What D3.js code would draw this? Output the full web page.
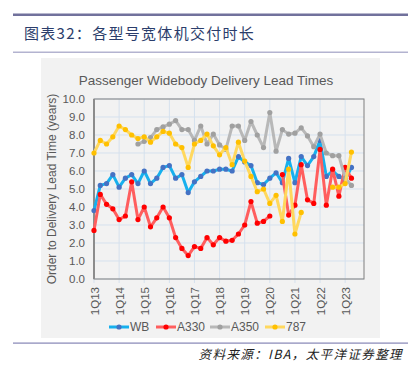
<!DOCTYPE html>
<html>
<head>
<meta charset="utf-8">
<script src="https://cdn.jsdelivr.net/npm/d3@7/dist/d3.min.js"></script>
<style>
  body { margin: 0; background: #fff; }
  svg text { font-family: "Liberation Sans", Arial, sans-serif; }
  .cn { font-family: "Noto Sans CJK SC", sans-serif; }
</style>
</head>
<body>
<svg id="chart" width="411" height="375"></svg>
<script>
// quarter categories 1Q13 .. 4Q23
var years = ['13', '14', '15', '16', '17', '18', '19', '20', '21', '22', '23'];
var quarters = [];
years.forEach(function (y) {
    ['1Q', '2Q', '3Q', '4Q'].forEach(function (q) { quarters.push(q + y); });
});
var tickLabels = ['1Q13', '1Q14', '1Q15', '1Q16', '1Q17', '1Q18', '1Q19', '1Q20', '1Q21', '1Q22', '1Q23'];
var yTicks = [0, 1, 2, 3, 4, 5, 6, 7, 8, 9, 10];

// years from order to delivery, one value per quarter (null = no delivery)
var wb = [3.8, 5.2, 5.3, 5.8, 5.1, 5.6, 5.8, 5.3, 6.0, 5.3, 5.6, 6.2, 6.3, 5.6, 5.8, 4.8, 5.4, 5.7, 6.0, 6.0,
    6.1, 6.1, 6.0, 6.8, 6.5, 6.3, 5.35, 5.25, 5.6, 5.9, 5.35, 6.7, 5.35, 6.8, 6.3, 6.8, 7.7, 5.7, 6.0, 5.7,
    5.5, 6.2];
var a330 = [2.7, 4.7, 4.15, 3.9, 3.3, 3.5, 5.4, 3.3, 4.0, 2.9, 3.4, 4.0, 3.4, 2.3, 1.7, 1.3, 1.8, 1.7, 2.3, 1.9,
    2.3, 2.1, 2.15, 2.5, 3.0, 4.3, 3.1, 3.2, 3.5, null, 5.8, 3.55, 4.1, 6.35, 4.4, 4.2, 7.2, 4.1, 6.1, 4.6,
    6.2, 5.6];
var a350 = [null, null, null, null, null, null, null, 7.5, 7.65, 7.85, 8.3, 8.45, 8.6, 8.8, 8.3, 8.3, 7.7, 8.5, 7.5, 8.05,
    7.45, 7.2, 8.5, 8.5, 7.7, 8.75, 8.0, 7.3, 9.25, 7.1, 8.3, 8.05, 8.1, 8.4, 7.95, 7.35, 8.05, 7.0, 6.85, 6.85,
    5.6, 5.2];
var b787 = [7.0, 7.7, 7.5, 7.9, 8.5, 8.3, 8.0, 7.8, 7.9, 7.6, 7.9, 8.2, 8.1, 7.5, 7.3, 6.2, 7.5, 7.7, 8.05, 7.4,
    6.9, 7.3, 6.35, 7.6, 6.55, 5.7, 4.85, 5.0, 4.2, 4.65, 3.2, 6.1, 2.5, 3.7, null, null, null, null, 5.1, 5.1,
    5.3, 7.05];

var series = [
    {name: 'WB', values: wb, line: '#16b0ee', dot: '#4472c4'},
    {name: 'A330', values: a330, line: '#ff5e5e', dot: '#ff0000'},
    {name: 'A350', values: a350, line: '#b8b8b8', dot: '#a0a0a0'},
    {name: '787', values: b787, line: '#ffd85e', dot: '#ffc000'}
];

var svg = d3.select('#chart');
var plot = {left: 94, right: 364, top: 99, bottom: 279};

// page header
svg.append('rect').attr('x', 13).attr('y', 13.5).attr('width', 395).attr('height', 2.5).attr('fill', '#71719c');
svg.append('text').attr('class', 'cn').attr('x', 24).attr('y', 39)
        .attr('font-size', 15).attr('fill', '#2b3d6b').attr('letter-spacing', 1.3)
        .text('图表32：各型号宽体机交付时长');
svg.append('rect').attr('x', 13).attr('y', 51.5).attr('width', 395).attr('height', 1.5).attr('fill', '#b3b3d0');

// chart box
svg.append('rect').attr('x', 41).attr('y', 58).attr('width', 339).attr('height', 280).attr('fill', '#f2f2f2');

svg.append('text').attr('x', 206).attr('y', 85).attr('text-anchor', 'middle')
        .attr('font-size', 13.5).attr('fill', '#595959')
        .text('Passenger Widebody Delivery Lead Times');

var x = d3.scalePoint().domain(quarters).range([plot.left, plot.right]);
var y = d3.scaleLinear().domain([0, 10]).range([plot.bottom, plot.top]);

// grid
var grid = svg.append('g');
grid.selectAll('.hg').data(yTicks).enter().append('line')
        .attr('x1', plot.left).attr('x2', plot.right)
        .attr('y1', function (d) { return y(d); }).attr('y2', function (d) { return y(d); })
        .attr('stroke', '#d5e1ee').attr('stroke-width', 1);
grid.selectAll('.vg').data(tickLabels).enter().append('line')
        .attr('x1', function (d) { return x(d); }).attr('x2', function (d) { return x(d); })
        .attr('y1', plot.top).attr('y2', plot.bottom + 4)
        .attr('stroke', '#d5e1ee').attr('stroke-width', 1);

// plot border
svg.append('rect').attr('x', plot.left).attr('y', plot.top)
        .attr('width', plot.right - plot.left).attr('height', plot.bottom - plot.top)
        .attr('fill', 'none').attr('stroke', '#7f7f7f').attr('stroke-width', 1);
svg.append('line').attr('x1', plot.left).attr('x2', plot.left).attr('y1', plot.top).attr('y2', plot.bottom)
        .attr('stroke', '#8c8c8c').attr('stroke-width', 2);

// axes
var yAxis = d3.axisLeft(y).tickValues(yTicks).tickFormat(d3.format('.1f')).tickSize(0).tickPadding(9);
var gy = svg.append('g').attr('transform', 'translate(' + plot.left + ',0)').call(yAxis);
gy.select('.domain').remove();
gy.selectAll('text').attr('font-size', 11.5).attr('fill', '#595959')
        .style('font-family', '"Liberation Sans", Arial, sans-serif');

var xAxis = d3.axisBottom(x).tickValues(tickLabels).tickSize(0).tickPadding(0);
var gx = svg.append('g').attr('transform', 'translate(0,' + plot.bottom + ')').call(xAxis);
gx.select('.domain').remove();
gx.selectAll('text')
        .attr('font-size', 11.5).attr('fill', '#595959')
        .style('font-family', '"Liberation Sans", Arial, sans-serif')
        .attr('text-anchor', 'end')
        .attr('transform', 'rotate(-90)')
        .attr('x', -8).attr('y', 0).attr('dy', '0.35em');

svg.append('text').attr('transform', 'translate(56,189) rotate(-90)')
        .attr('text-anchor', 'middle').attr('font-size', 12).attr('fill', '#595959')
        .text('Order to Delivery Lead Time (years)');

// series
var line = d3.line()
        .defined(function (d) { return d != null; })
        .x(function (d, i) { return x(quarters[i]); })
        .y(function (d) { return y(d); });

series.forEach(function (s) {
    var g = svg.append('g');
    g.append('path').attr('d', line(s.values))
            .attr('fill', 'none').attr('stroke', s.line).attr('stroke-width', 3)
            .attr('stroke-linejoin', 'round');
    g.selectAll('circle').data(s.values.map(function (v, i) { return {v: v, i: i}; })
            .filter(function (d) { return d.v != null; }))
            .enter().append('circle')
            .attr('cx', function (d) { return x(quarters[d.i]); })
            .attr('cy', function (d) { return y(d.v); })
            .attr('r', 2.6).attr('fill', s.dot);
});

// legend
var legendX = [109, 156, 210, 265];
var lg = svg.append('g').selectAll('g').data(series).enter().append('g')
        .attr('transform', function (d, i) { return 'translate(' + legendX[i] + ',327)'; });
lg.append('line').attr('x1', 0).attr('x2', 20).attr('y1', 0).attr('y2', 0)
        .attr('stroke', function (d) { return d.line; }).attr('stroke-width', 3);
lg.append('circle').attr('cx', 10).attr('cy', 0).attr('r', 2.6).attr('fill', function (d) { return d.dot; });
lg.append('text').attr('x', 21).attr('y', 0).attr('dy', '0.36em')
        .attr('font-size', 12).attr('fill', '#595959')
        .text(function (d) { return d.name; });

// footer
svg.append('rect').attr('x', 13).attr('y', 342.5).attr('width', 395).attr('height', 1.2).attr('fill', '#8585b5');
svg.append('text').attr('class', 'cn').attr('x', 403).attr('y', 359).attr('text-anchor', 'end')
        .attr('font-size', 12.5).attr('font-style', 'italic').attr('fill', '#222').attr('letter-spacing', 1.4)
        .text('资料来源：IBA，太平洋证券整理');
</script>
</body>
</html>
